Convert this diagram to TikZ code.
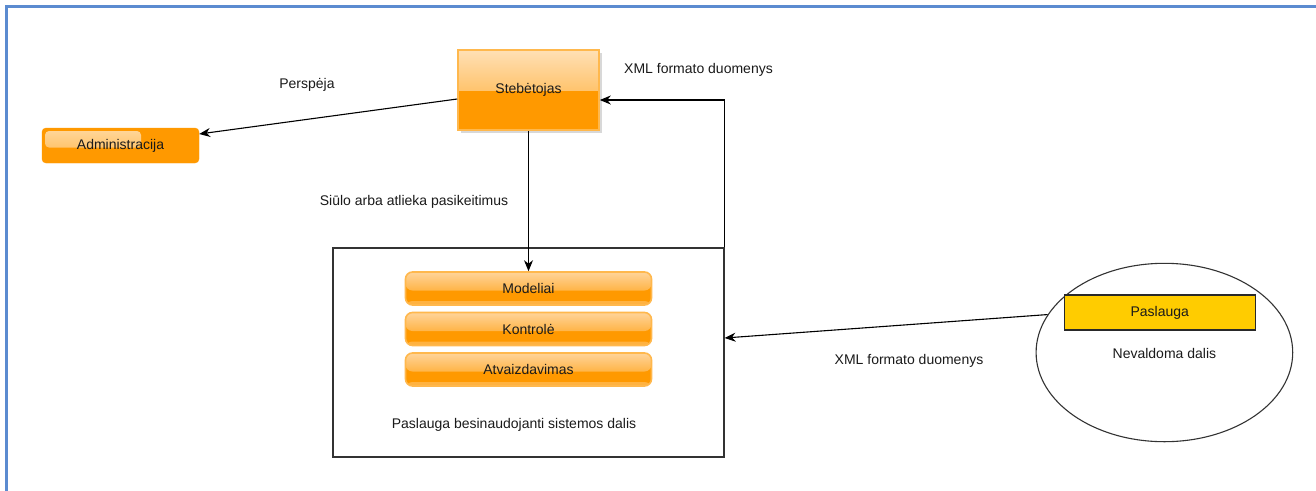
\documentclass[tikz,border=0pt]{standalone}
\usepackage{fontspec}
\setmainfont{Liberation Sans}
\usetikzlibrary{arrows.meta,shapes.geometric,shadows}
\definecolor{frameblue}{HTML}{5B8BD0}
\definecolor{org}{HTML}{FF9900}
\definecolor{orglight}{HTML}{FFE0B5}
\definecolor{orgmid}{HTML}{FFC46E}
\definecolor{pilltop}{HTML}{FFD49A}
\definecolor{pillmid}{HTML}{FFB446}
\definecolor{orgborder}{HTML}{FFB84D}
\definecolor{gold}{HTML}{FFCC00}
\definecolor{edgegray}{HTML}{333333}
\definecolor{txt}{HTML}{1A1A1A}
\begin{document}
\begin{tikzpicture}[x=1pt,y=-1pt,
  font=\fontsize{14}{16}\selectfont, text=txt,
  glossy/.style={draw=orgborder, line width=1.6pt, inner sep=0pt,
    path picture={
      \fill[org] (path picture bounding box.west) rectangle (path picture bounding box.south east);
      \shade[top color=orglight, bottom color=orgmid] (path picture bounding box.north west) rectangle (path picture bounding box.east);}},
  pill/.style={draw=orgborder, line width=1.6pt, inner sep=0pt, rounded corners=7pt,
    minimum width=246pt, minimum height=33pt,
    path picture={
      \fill[org] (path picture bounding box.north west) rectangle (path picture bounding box.south east);
      \shade[top color=pilltop, bottom color=pillmid] (path picture bounding box.north west) rectangle ([yshift=-2pt]path picture bounding box.east);
      \fill[white!25!org] ([yshift=4pt]path picture bounding box.south west) rectangle (path picture bounding box.south east);}},
  frame/.style={draw=edgegray, line width=1.1pt, inner sep=0pt},
  lbl/.style={inner sep=0pt},
  arr/.style={draw=black, line width=1.1pt, -{Stealth[length=11pt,width=9pt,inset=3.5pt]}}]
\useasboundingbox (0,0) rectangle (1316,490);
\fill[white] (0,0) rectangle (1316,490);
% outer blue frame
\draw[frameblue, line width=2.6pt] (6.5,492) -- (6.5,6.5) -- (1318,6.5);

% nodes
\node[glossy, minimum width=141pt, minimum height=80pt,
      drop shadow={opacity=0.3, shadow xshift=2.5pt, shadow yshift=-2.5pt}]
      (stb) at (528.5,90) {Stebėtojas};
\node[draw=org, fill=org, rounded corners=4pt, minimum width=157pt, minimum height=35pt, inner sep=0pt,
      path picture={\shade[rounded corners=4pt, top color=white!62!org, bottom color=white!28!org]
        ([xshift=3pt,yshift=-3pt]path picture bounding box.north west) rectangle
        ([xshift=99pt,yshift=-19.5pt]path picture bounding box.north west);}]
      (adm) at (120.5,145.5) {Administracija};
\node[frame, minimum width=391pt, minimum height=209pt] (sys) at (528.5,352.5) {};
\node[pill] (mod) at (528.5,288.5) {Modeliai};
\node[pill] (kon) at (528.5,329) {Kontrolė};
\node[pill] (atv) at (528.5,369.5) {Atvaizdavimas};
\node[lbl] (sysl) at (514,425) {Paslauga besinaudojanti sistemos dalis};

\node[ellipse, draw=edgegray, line width=1.1pt, minimum width=256.6pt, minimum height=178.4pt, inner sep=0pt] (ell) at (1164.4,352.5) {};
\node[draw=edgegray!80!black, fill=gold, line width=1.1pt, minimum width=190.7pt, minimum height=35pt, inner sep=0pt] (pas) at (1159.7,312.5) {Paslauga};
\node[lbl] (nev) at (1164.4,353) {Nevaldoma dalis};

% labels
\node[lbl] (l1) at (307,85) {Perspėja};
\node[lbl] (l2) at (698.5,70) {XML formato duomenys};
\node[lbl] (l3) at (414,202) {Siūlo arba atlieka pasikeitimus};
\node[lbl] (l4) at (909,361) {XML formato duomenys};

% connectors
\draw[arr] ([yshift=-9pt]stb.west) -- ([yshift=11.5pt]adm.east);
\draw[arr] (stb.south) -- (mod.north);
\draw[arr] (sys.north east) |- ([yshift=-10pt]stb.east);
\draw[arr] (ell.162) -- ([yshift=14.5pt]sys.east);
\end{tikzpicture}
\end{document}
